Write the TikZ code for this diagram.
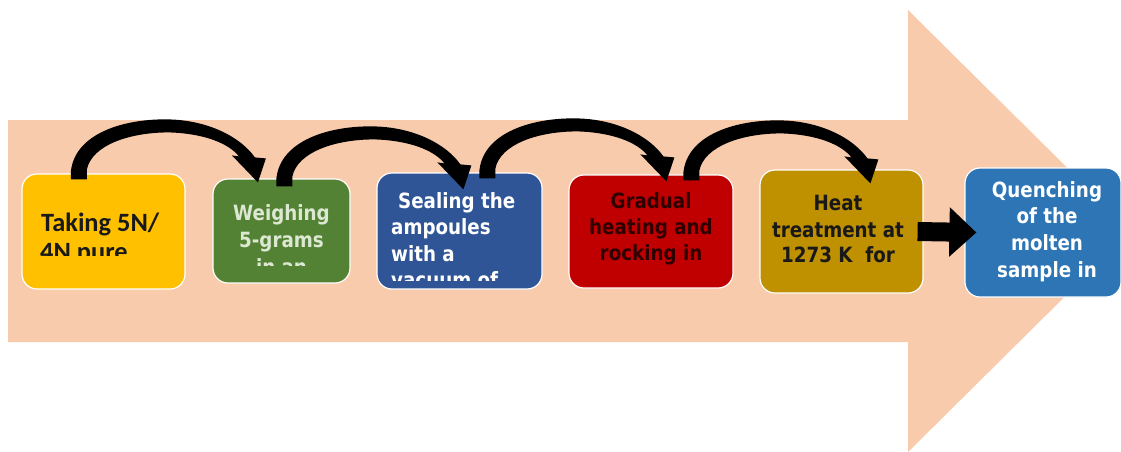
\documentclass[tikz,border=0pt]{standalone}
\usepackage{fontspec}
\setmainfont{DejaVu Sans}
\newfontfamily\bxfont{DejaVu Sans}[FakeStretch=0.87]
\newfontfamily\carl{Carlito}
\usetikzlibrary{arrows.meta}
\definecolor{peach}{HTML}{F8CBAD}
\definecolor{cyel}{HTML}{FFC000}
\definecolor{cgrn}{HTML}{548235}
\definecolor{cblu}{HTML}{2F5597}
\definecolor{cred}{HTML}{C00000}
\definecolor{cgold}{HTML}{BF9000}
\definecolor{cblu2}{HTML}{2E75B6}
\definecolor{ltgrn}{HTML}{DCE8D2}
\definecolor{darkred}{HTML}{300000}
\tikzset{
  box/.style={draw=white, line width=1.2pt, rounded corners=15pt, inner sep=0pt},
  txt/.style={inner sep=0pt, font=\bxfont\bfseries\fontsize{21}{27}\selectfont},
  txtone/.style={inner sep=0pt, font=\carl\bfseries\fontsize{26.4}{28}\selectfont, text=black!90},
  curvarrow/.pic={
    \fill[black] (-8,6) -- (-8,-2) .. controls (-4,-40) and (45,-55) .. (90,-54)
      .. controls (130,-53) and (162,-36) .. (176,-16)
      -- (187,-15) -- (179,9) -- (153,-18) -- (160,-17)
      .. controls (150,-30) and (125,-40) .. (90,-41)
      .. controls (50,-41) and (13,-28) .. (8,-4) -- (8,6) -- cycle;
  }
}
\begin{document}
\begin{tikzpicture}[x=1pt,y=-1pt]
\useasboundingbox (0,0) rectangle (1121,451);
% background arrow
\fill[peach] (8,120) -- (908,120) -- (908,10) -- (1131,231) -- (908,452) -- (908,342) -- (8,342) -- cycle;
% boxes
\node[box, fill=cyel,  minimum width=163pt, minimum height=115pt] (b1) at (103.5,231.5) {};
\node[box, fill=cgrn,  minimum width=137pt, minimum height=104pt] (b2) at (281.5,231) {};
\node[box, fill=cblu,  minimum width=165pt, minimum height=116pt] (b3) at (459.5,231) {};
\node[box, fill=cred,  minimum width=164pt, minimum height=113pt] (b4) at (651,231.5) {};
\node[box, fill=cgold, minimum width=163pt, minimum height=123pt] (b5) at (841.5,231.5) {};
\node[box, fill=cblu2, minimum width=156pt, minimum height=129pt] (b6) at (1043,232.5) {};
% texts
\begin{scope}
\clip (22,174) rectangle (185,255);
\node[txtone, anchor=base west] (t11) at (41,231) {Taking 5N/};
\node[txtone, anchor=base west] (t12) at (40,260) {4N pure};
\end{scope}
\begin{scope}
\clip (213,179) rectangle (350,265);
\node[txt, text=ltgrn, anchor=base] (t21) at (281.5,220) {Weighing};
\node[txt, text=ltgrn, anchor=base] (t22) at (281.5,247) {5-grams};
\node[txt, text=ltgrn, anchor=base] (t23) at (281.5,274) {in an};
\end{scope}
\begin{scope}
\clip (377,173) rectangle (542,280);
\node[txt, text=white, anchor=base west] (t31) at (398,208) {Sealing the};
\node[txt, text=white, anchor=base west] (t32) at (391,234) {ampoules};
\node[txt, text=white, anchor=base west] (t33) at (391,261) {with a};
\node[txt, text=white, anchor=base west] (t34) at (391,287) {vacuum of};
\end{scope}
\node[txt, text=darkred, anchor=base] (t41) at (651,208) {Gradual};
\node[txt, text=darkred, anchor=base] (t42) at (651,234) {heating and};
\node[txt, text=darkred, anchor=base] (t43) at (651,260) {rocking in};
\node[txt, text=black!90, anchor=base] (t51) at (838,210) {Heat};
\node[txt, text=black!90, anchor=base] (t52) at (838,237) {treatment at};
\node[txt, text=black!90, anchor=base] (t53) at (838,262) {1273 K\ \ for};
\node[txt, text=white, anchor=base] (t61) at (1047,197) {Quenching};
\node[txt, text=white, anchor=base] (t62) at (1047,223) {of the};
\node[txt, text=white, anchor=base] (t63) at (1047,250) {molten};
\node[txt, text=white, anchor=base] (t64) at (1047,277) {sample in};
% curved arrows
\pic at ([xshift=57.5pt]b1.north west) {curvarrow};
\pic at ([xshift=72pt,yshift=-2pt]b2.north west) {curvarrow};
\pic at ([xshift=111pt]b3.north west) {curvarrow};
\pic at ([xshift=123pt]b4.north west) {curvarrow};
% straight arrow
\draw[line width=19pt, -{Triangle[length=27pt,width=48pt]}] ([xshift=-6pt]b5.east) -- ([xshift=12pt]b6.west);
\end{tikzpicture}
\end{document}
